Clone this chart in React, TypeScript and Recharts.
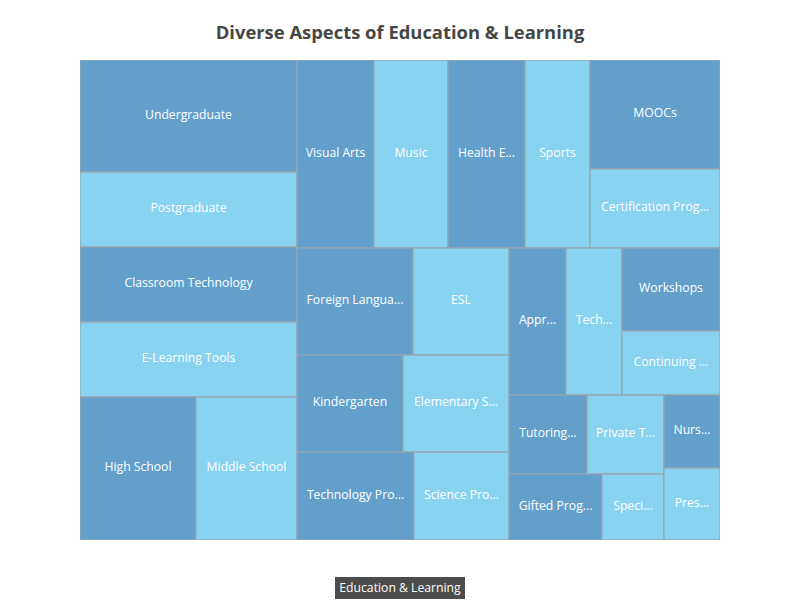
import { Treemap } from "recharts"

// group names (sorted by total size, largest first)
const groupNames = [
  "Higher Education",
  "Educational Technology",
  "Secondary Education",
  "Arts Education",
  "Health & Physical Education",
  "Online Learning",
  "Language Learning",
  "Primary Education",
  "STEM Education",
  "Vocational Training",
  "Adult Education",
  "Tutoring",
  "Special Programs",
  "Early Childhood",
]

const leafNames = [
  ["Undergraduate", "Postgraduate"],
  ["Classroom Technology", "E-Learning Tools"],
  ["High School", "Middle School"],
  ["Visual Arts", "Music"],
  ["Health Education", "Sports"],
  ["MOOCs", "Certification Programs"],
  ["Foreign Languages", "ESL"],
  ["Kindergarten", "Elementary School"],
  ["Technology Programs", "Science Programs"],
  ["Apprenticeships", "Technical Training"],
  ["Workshops", "Continuing Education"],
  ["Tutoring Services", "Private Tutoring"],
  ["Gifted Programs", "Special Education"],
  ["Nursery", "Preschool"],
]

const leafValues = [
  [243, 163],
  [163, 163],
  [165, 143],
  [145, 139],
  [145, 122],
  [142, 103],
  [124, 103],
  [103, 103],
  [103, 84],
  [84, 82],
  [81, 63],
  [62, 61],
  [61, 41],
  [41, 40],
]

const rootName = "Education & Learning"
const chartTitle = "Diverse Aspects of Education & Learning"

const treeData = groupNames.map((g, i) => ({
  name: g,
  children: leafNames[i].map((n, j) => ({ name: n, size: leafValues[i][j] })),
}))

const FONT = "'Open Sans', 'Noto Sans', sans-serif"
const LABEL_SIZE = 12.2
const colors = ["#629fcb", "#87d3f0"]

let ctx: CanvasRenderingContext2D | null = null
function measure(text: string) {
  if (!ctx) ctx = document.createElement("canvas").getContext("2d")
  if (!ctx) return text.length * 7
  ctx.font = `${LABEL_SIZE}px ${FONT}`
  return ctx.measureText(text).width
}

// full label if it fits, otherwise cut with "..."
function fitLabel(text: string, width: number) {
  if (measure(text) <= width - 14) return text
  let s = text
  while (s.length > 1 && measure(s + "...") > width - 18) s = s.slice(0, -1)
  return s + "..."
}

function Cell(props: any) {
  const { depth, x, y, width, height, index, name } = props
  if (depth !== 2) return null
  const label = fitLabel(name, width)
  return (
    <g>
      <rect x={x} y={y} width={width} height={height} fill={colors[index % 2]} stroke="#97a5af" strokeWidth={1.2} />
      <text
        x={x + width / 2}
        y={y + height / 2 - 2}
        textAnchor="middle"
        dominantBaseline="central"
        fill="#fff"
        fontSize={LABEL_SIZE}
        fontFamily={FONT}
      >
        {label}
      </text>
    </g>
  )
}

export default function App() {
  return (
    <div style={{ position: "absolute", left: 0, top: 0, width: 800, height: 600, background: "#fff", fontFamily: FONT }}>
      <div
        style={{
          position: "absolute",
          top: 20,
          left: 0,
          width: 800,
          textAlign: "center",
          fontSize: 18.4,
          fontWeight: "bold",
          color: "#464646",
          lineHeight: "24px",
        }}
      >
        {chartTitle}
      </div>
      <div style={{ position: "absolute", left: 80, top: 60 }}>
        <Treemap
          width={640}
          height={480}
          data={treeData}
          dataKey="size"
          nameKey="name"
          aspectRatio={0.5 * (1 + Math.sqrt(5))}
          isAnimationActive={false}
          content={<Cell />}
        />
      </div>
      <div
        style={{
          position: "absolute",
          top: 577,
          left: 0,
          width: 800,
          display: "flex",
          justifyContent: "center",
        }}
      >
        <div
          style={{
            background: "rgba(0,0,0,0.7)",
            color: "#fff",
            fontSize: LABEL_SIZE,
            height: 22,
            lineHeight: "22px",
            padding: "0 4px",
          }}
        >
          {rootName}
        </div>
      </div>
    </div>
  )
}
